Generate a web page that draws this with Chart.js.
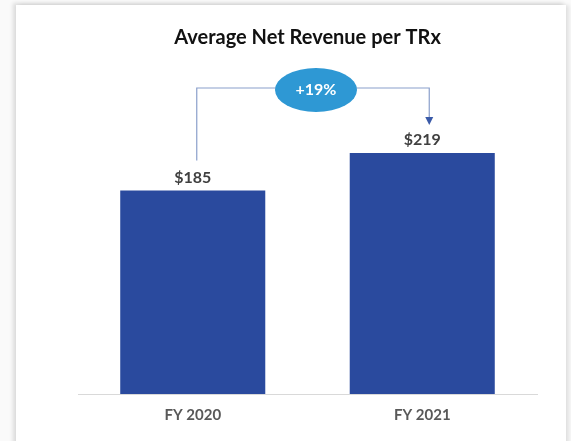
<!DOCTYPE html>
<html lang="en">
<head>
  <meta charset="UTF-8" />
  <title>Average Net Revenue per TRx</title>
  <script src="https://cdn.jsdelivr.net/npm/chart.js"></script>
  <style>
    html, body { margin: 0; padding: 0; }
    body { width: 571px; height: 441px; background: #fafafa; overflow: hidden; position: relative; font-family: Lato, Arial, sans-serif; }
    .card { position: absolute; left: 16px; top: 5px; width: 550px; height: 450px; background: #fff; box-shadow: -3px -2px 4px rgba(0,0,0,0.12), 3px 0 4px rgba(0,0,0,0.10); }
    #wrap { position: absolute; left: 0; top: 0; width: 571px; height: 441px; }
  </style>
</head>
<body>
  <div class="card"></div>
  <div id="wrap"><canvas id="chart" width="571" height="441"></canvas></div>

  <script>
    const categories = ['FY 2020', 'FY 2021'];
    const revenue = [185, 219];
    const valueLabels = ['$185', '$219'];
    const growthLabel = '+19%';

    const barBlue = '#2a4a9e';
    const connector = '#8a9fcb';

    // value labels above each bar
    const barLabels = {
      id: 'barLabels',
      afterDatasetsDraw(chart) {
        const ctx = chart.ctx;
        const meta = chart.getDatasetMeta(0);
        ctx.save();
        ctx.font = 'bold 16px Lato, Arial, sans-serif';
        ctx.fillStyle = '#404040';
        ctx.textAlign = 'center';
        ctx.textBaseline = 'bottom';
        meta.data.forEach((bar, i) => {
          ctx.fillText(valueLabels[i], bar.x, bar.y - 5);
        });
        ctx.restore();
      }
    };

    // growth bubble with elbow connector from first bar to second
    const growthBubble = {
      id: 'growthBubble',
      afterDatasetsDraw(chart) {
        const ctx = chart.ctx;
        const meta = chart.getDatasetMeta(0);
        const b1 = meta.data[0], b2 = meta.data[1];
        const x1 = b1.x + 4, x2 = b2.x + 7;
        const lineY = 88;
        const cx = (x1 + x2) / 2 + 3, cy = 90, rx = 41, ry = 22;
        const startY = b1.y - 30;
        const tipY = b2.y - 28;

        ctx.save();
        ctx.strokeStyle = connector;
        ctx.lineWidth = 1.2;
        ctx.beginPath();
        ctx.moveTo(x1, startY);
        ctx.lineTo(x1, lineY);
        ctx.lineTo(x2, lineY);
        ctx.lineTo(x2, tipY - 6);
        ctx.stroke();

        ctx.fillStyle = '#3a5aa8';
        ctx.beginPath();
        ctx.moveTo(x2 - 4, tipY - 8);
        ctx.lineTo(x2 + 4, tipY - 8);
        ctx.lineTo(x2, tipY);
        ctx.closePath();
        ctx.fill();

        ctx.fillStyle = '#2e98d4';
        ctx.beginPath();
        ctx.ellipse(cx, cy, rx, ry, 0, 0, Math.PI * 2);
        ctx.fill();

        ctx.fillStyle = '#ffffff';
        ctx.font = 'bold 16px Lato, Arial, sans-serif';
        ctx.textAlign = 'center';
        ctx.textBaseline = 'middle';
        ctx.fillText(growthLabel, cx, cy);
        ctx.restore();
      }
    };

    new Chart(document.getElementById('chart'), {
      type: 'bar',
      data: {
        labels: categories,
        datasets: [{
          data: revenue,
          backgroundColor: barBlue,
          categoryPercentage: 0.632,
          barPercentage: 1.0
        }]
      },
      options: {
        responsive: false,
        animation: false,
        layout: { padding: { left: 78, right: 34, top: 0, bottom: 5 } },
        plugins: {
          legend: { display: false },
          tooltip: { enabled: false },
          title: {
            display: true,
            text: 'Average Net Revenue per TRx',
            color: '#111111',
            font: { family: 'Lato, Arial, sans-serif', size: 20, weight: 'bold' },
            padding: { top: 26, bottom: 14 }
          }
        },
        scales: {
          x: {
            grid: { display: false, drawTicks: false },
            border: { display: true, color: '#d9d9d9', width: 1 },
            ticks: {
              color: '#595959',
              padding: 12,
              font: { family: 'Lato, Arial, sans-serif', size: 15, weight: 'bold' }
            }
          },
          y: {
            display: false,
            min: 0,
            max: 300
          }
        }
      },
      plugins: [barLabels, growthBubble]
    });
  </script>
</body>
</html>
